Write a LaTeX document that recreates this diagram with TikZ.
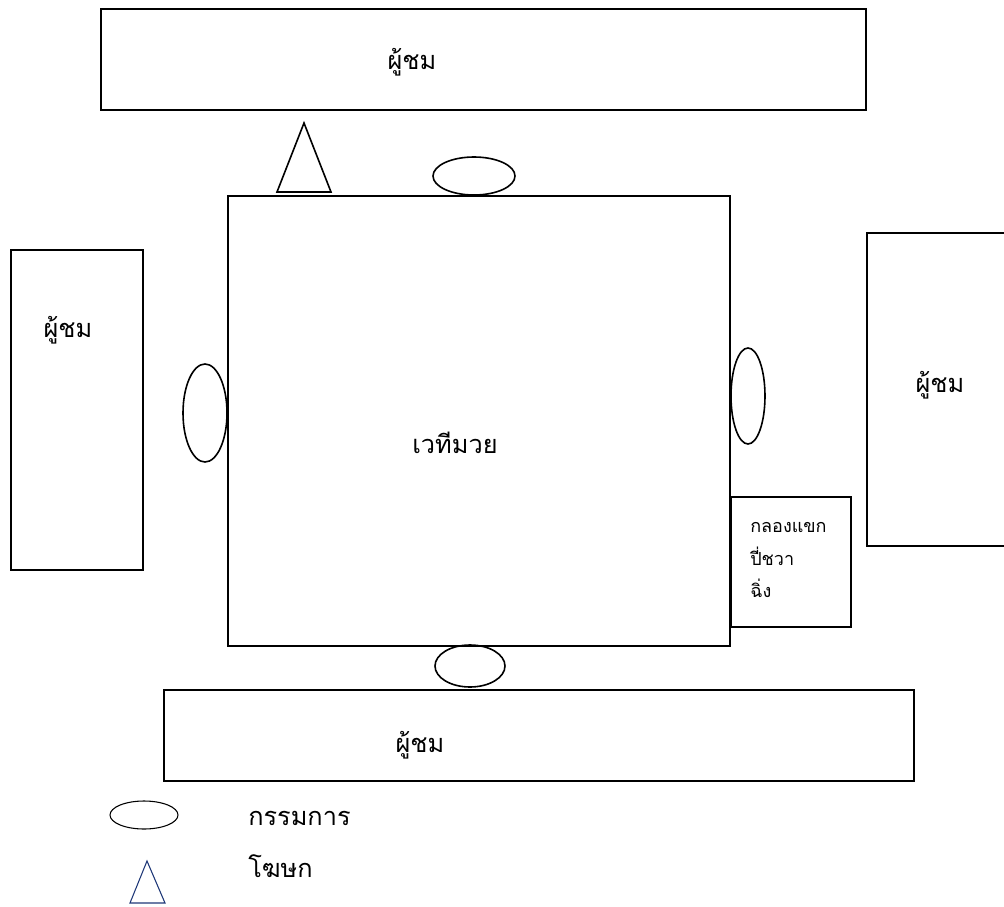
\documentclass[tikz,border=0pt]{standalone}
\usepackage{fontspec}
\newfontfamily\thaifont[Script=Thai]{Loma}
\usetikzlibrary{shapes.geometric}

\begin{document}
\begin{tikzpicture}[x=0.75pt, y=-0.75pt,
        area/.style={rectangle, draw, line width=1.2pt, inner sep=0pt},
        judge/.style={ellipse, draw, line width=1.2pt, inner sep=0pt},
        caption/.style={font=\thaifont\fontsize{19}{22}\selectfont, inner sep=0pt},
        small/.style={font=\thaifont\fontsize{13.5}{24.5}\selectfont, inner sep=0pt, align=left}
    ]
        \useasboundingbox (0,0) rectangle (1004,907);
        % seats around the ring
        \node[area, minimum width=573.75pt, minimum height=75.75pt] (top) at (483.5, 59.5) {};
        \node[area, minimum width=99pt, minimum height=240pt] (left) at (77, 410) {};
        \node[area, minimum width=107.25pt, minimum height=234.75pt] (right) at (938.5, 389.5) {};
        \node[area, minimum width=562.5pt, minimum height=68.25pt] (bottom) at (539, 735.5) {};
        \node[area, minimum width=376.5pt, minimum height=337.5pt] (ring) at (479, 421) {};
        \node[area, minimum width=90pt, minimum height=97.5pt] (band) at (791, 562) {};

        \node[caption] (topname) at (412, 62) {ผู้ชม};
        \node[caption] (leftname) at (68, 330) {ผู้ชม};
        \node[caption] (rightname) at (940, 385) {ผู้ชม};
        \node[caption] (bottomname) at (420, 745) {ผู้ชม};
        \node[caption] (ringname) at (455, 443) {เวทีมวย};
        \node[small, anchor=west] (bandname) at (750, 560) {กลองแขก\\ปี่ชวา\\ฉิ่ง};

        % judges
        \node[judge, minimum width=61.5pt, minimum height=28.5pt] (judgetop) at (474, 176) {};
        \node[judge, minimum width=33pt, minimum height=73.5pt] (judgeleft) at (205, 413) {};
        \node[judge, minimum width=25.5pt, minimum height=72pt] (judgeright) at (748, 396) {};
        \node[judge, minimum width=52.5pt, minimum height=31.5pt] (judgebottom) at (470, 666) {};

        % announcer
        \draw[line width=1.2pt, line join=miter] (277,192) -- (331,192) -- (304,123) -- cycle;

        % legend
        \node[ellipse, draw, line width=0.8pt, inner sep=0pt, minimum width=51pt, minimum height=21pt] (keyjudge) at (144, 815) {};
        \draw[line width=0.8pt, draw={rgb,255:red,31;green,56;blue,120}] (130,903) -- (165,903) -- (147,861) -- cycle;
        \node[caption, anchor=west] (keyjudgename) at (248, 818) {กรรมการ};
        \node[caption, anchor=west] (keyspeaker) at (248, 866) {โฆษก};
    \end{tikzpicture}
\end{document}
